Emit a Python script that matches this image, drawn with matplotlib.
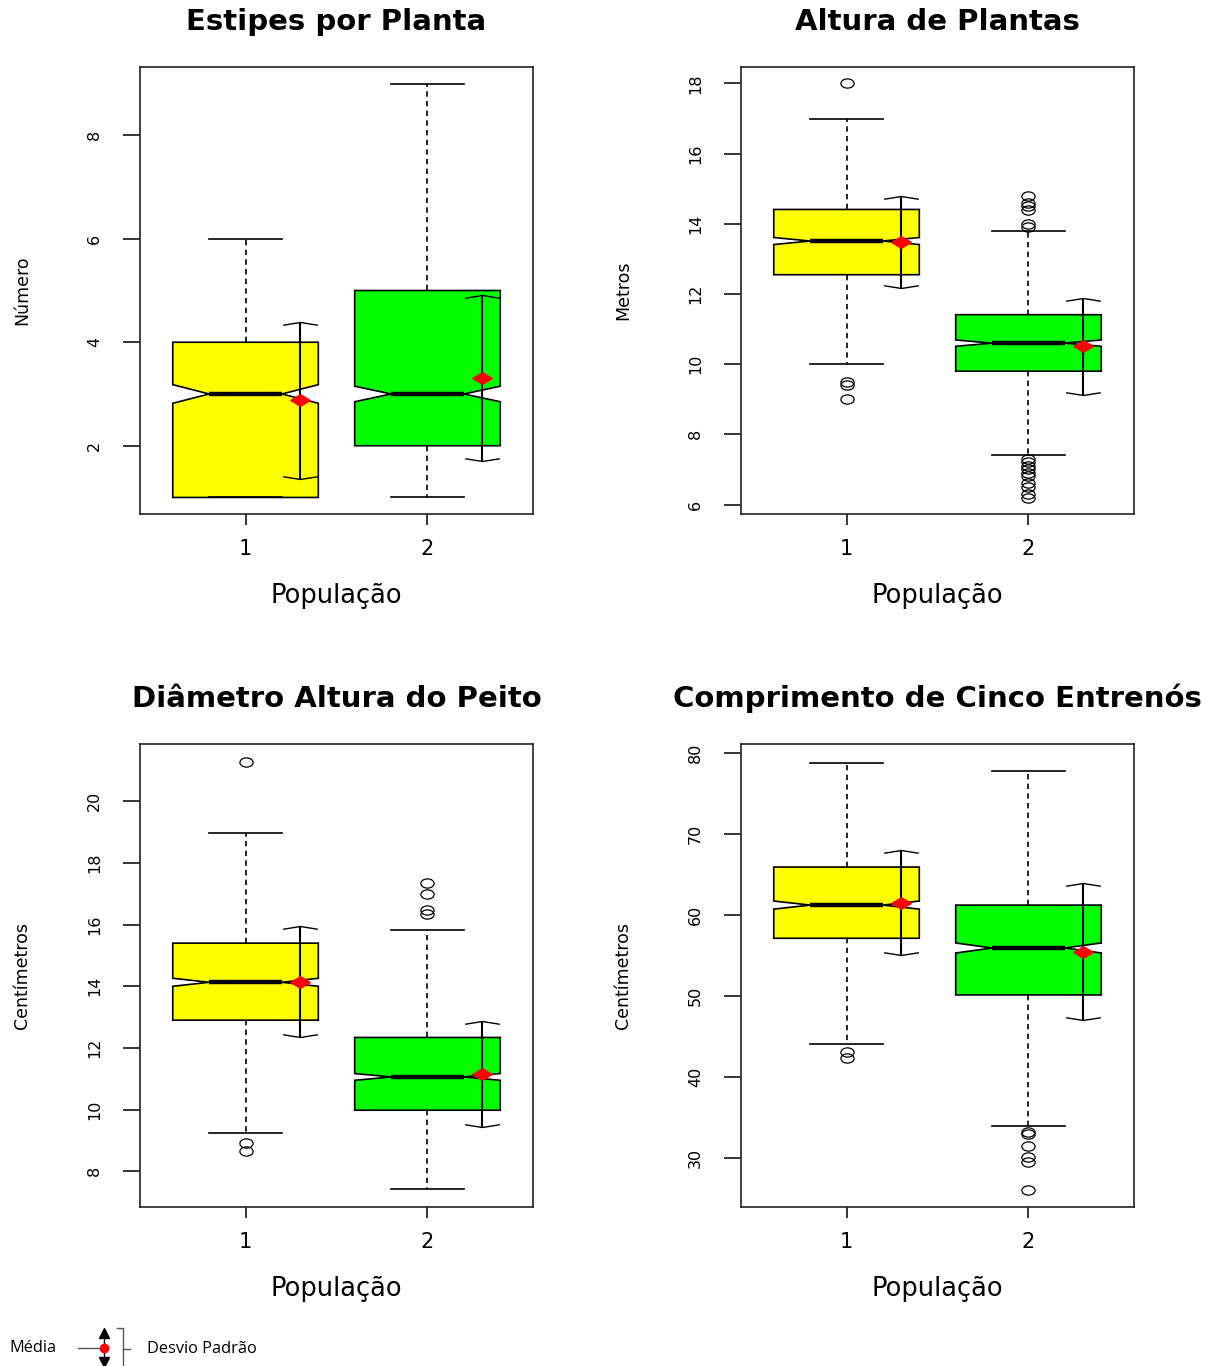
import numpy as np
import matplotlib
matplotlib.use("Agg")
import matplotlib.pyplot as plt
from matplotlib.path import Path
from matplotlib.markers import MarkerStyle
from matplotlib.lines import Line2D

# ---------------- data ----------------
titles = ["Estipes por Planta", "Altura de Plantas",
          "Diâmetro Altura do Peito", "Comprimento de Cinco Entrenós"]
ylabels = ["Número", "Metros", "Centímetros", "Centímetros"]
xlabel = "População"
groups = ["1", "2"]

# per panel, per population
whislo = [[1.0, 1.0], [10.0, 7.40], [9.23, 7.44], [44.0, 33.9]]
q1s    = [[1.0, 2.0], [12.55, 9.80], [12.90, 9.98], [57.1, 50.1]]
meds   = [[3.0, 3.0], [13.51, 10.60], [14.13, 11.06], [61.2, 55.9]]
q3s    = [[4.0, 5.0], [14.41, 11.41], [15.40, 12.34], [65.9, 61.2]]
whishi = [[6.0, 9.0], [17.0, 13.80], [18.96, 15.84], [78.8, 77.8]]
notch_half = [[0.18, 0.15], [0.10, 0.09], [0.13, 0.11], [0.5, 0.62]]
fliers = [
    [[], []],
    [[18.0, 9.5, 9.4, 9.0],
     [14.8, 14.6, 14.5, 14.4, 14.0, 13.9,
      7.3, 7.2, 7.1, 7.0, 6.9, 6.8, 6.6, 6.5, 6.3, 6.2]],
    [[21.27, 8.93, 8.67], [17.36, 17.01, 16.49, 16.36]],
    [[43.0, 42.3], [33.2, 32.9, 31.4, 30.1, 29.5, 26.0]],
]
means = [[2.88, 3.31], [13.47, 10.51], [14.15, 11.16], [61.5, 55.45]]
sds   = [[1.52, 1.60], [1.31, 1.39], [1.80, 1.71], [6.5, 8.45]]

yticks = [[2, 4, 6, 8], [6, 8, 10, 12, 14, 16, 18],
          [8, 10, 12, 14, 16, 18, 20], [30, 40, 50, 60, 70, 80]]
ylims = [(0.68, 9.32), (5.73, 18.47), (6.84, 21.86), (23.9, 81.1)]
box_colors = ["#FFFF00", "#00FF00"]

# ---------------- layout ----------------
W, H = 1214, 1366
fig = plt.figure(figsize=(W / 100, H / 100), dpi=100)
plt.rcParams['font.family'] = ['DejaVu Sans']

rects_px = [(140, 67, 533, 514), (741, 67, 1134, 514),
            (140, 744, 533, 1207), (741, 744, 1134, 1207)]

# markers
ell = Path.unit_circle()
flier_marker = MarkerStyle(Path(ell.vertices * np.array([1.0, 0.7]), ell.codes))
diamond = MarkerStyle(Path([(-1, 0), (0, 0.6), (1, 0), (0, -0.6), (-1, 0)],
                           [Path.MOVETO, Path.LINETO, Path.LINETO, Path.LINETO, Path.CLOSEPOLY]))
cap_top = MarkerStyle(Path([(-1, -0.16), (0, 0), (1, -0.16)],
                           [Path.MOVETO, Path.LINETO, Path.LINETO]), fillstyle='none')
cap_bot = MarkerStyle(Path([(-1, 0.16), (0, 0), (1, 0.16)],
                           [Path.MOVETO, Path.LINETO, Path.LINETO]), fillstyle='none')

positions = [1, 2]
for k in range(4):
    l, t, r, b = rects_px[k]
    ax = fig.add_axes([l / W, 1 - b / H, (r - l) / W, (b - t) / H])
    hpx, wpx = b - t, r - l
    stats = []
    for g in range(2):
        stats.append(dict(
            whislo=whislo[k][g], q1=q1s[k][g], med=meds[k][g], q3=q3s[k][g],
            whishi=whishi[k][g], fliers=fliers[k][g],
            cilo=meds[k][g] - notch_half[k][g], cihi=meds[k][g] + notch_half[k][g],
            label=groups[g]))
    bp = ax.bxp(stats, positions=positions, widths=0.8, capwidths=0.4,
                shownotches=True, patch_artist=True,
                boxprops=dict(edgecolor='black', linewidth=1.2),
                medianprops=dict(color='black', linewidth=3.2, solid_capstyle='butt'),
                whiskerprops=dict(color='black', linewidth=1.2, linestyle=(0, (3.2, 2.6))),
                capprops=dict(color='black', linewidth=1.2),
                flierprops=dict(marker=flier_marker, markersize=9.5, markerfacecolor='none',
                                markeredgecolor='black', markeredgewidth=0.9, linestyle='none'))
    for patch, c in zip(bp['boxes'], box_colors):
        patch.set_facecolor(c)

    # mean +- sd
    mpos = [p + 0.3 for p in positions]
    lo = [m - s for m, s in zip(means[k], sds[k])]
    hi = [m + s for m, s in zip(means[k], sds[k])]
    ax.vlines(mpos, lo, hi, colors='black', linewidth=1.5, zorder=4)
    ax.plot(mpos, hi, linestyle='none', marker=cap_top, markersize=25,
            markeredgecolor='black', markeredgewidth=1.0, zorder=4)
    ax.plot(mpos, lo, linestyle='none', marker=cap_bot, markersize=25,
            markeredgecolor='black', markeredgewidth=1.0, zorder=4)
    ax.plot(mpos, means[k], linestyle='none', marker=diamond, markersize=14,
            markerfacecolor='red', markeredgecolor='red', zorder=5)

    ax.set_xlim(0.42, 2.58)
    ax.set_ylim(*ylims[k])
    ax.set_xticks(positions)
    ax.set_xticklabels(groups)
    ax.set_yticks(yticks[k])
    ax.set_yticklabels([str(v) for v in yticks[k]])
    ax.tick_params(axis='x', direction='out', length=8, width=1.1, pad=10, labelsize=15)
    ax.tick_params(axis='y', direction='out', length=12.5, width=1.1, pad=15,
                   labelsize=11.5, labelrotation=90)
    for lab in ax.get_yticklabels():
        lab.set_va('center')
    for sp in ax.spines.values():
        sp.set_linewidth(1.2)
        sp.set_color('#222222')

    ax.text(0.5, 1 + 37 / hpx, titles[k], transform=ax.transAxes, ha='center',
            va='baseline', fontsize=21, fontweight='bold')
    ax.set_xlabel(xlabel, fontsize=18.5)
    ax.xaxis.set_label_coords(0.5, -69 / hpx)
    ax.xaxis.label.set_va('top')
    ax.set_ylabel(ylabels[k], fontsize=12.5)
    ax.yaxis.set_label_coords(-118 / wpx, 0.5)
    ax.yaxis.label.set_va('center')


# ---------------- legend (bottom-left) ----------------
def fx(px):
    return px / W


def fy(py):
    return 1 - py / H


lfont = ['Open Sans', 'DejaVu Sans']
fig.text(fx(9), fy(1348), "Média", ha='left', va='center', fontsize=11.8, family=lfont)
fig.text(fx(147), fy(1349), "Desvio Padrão", ha='left', va='center', fontsize=11.8, family=lfont)
fig.add_artist(Line2D([fx(78), fx(100)], [fy(1348), fy(1348)], color='#555555', lw=1.0))
fig.add_artist(Line2D([fx(104), fx(104)], [fy(1334), fy(1362)], color='black', lw=1.0))
fig.add_artist(Line2D([fx(104)], [fy(1333)], marker='^', markersize=7.5, color='black', linestyle='none'))
fig.add_artist(Line2D([fx(104)], [fy(1362)], marker='v', markersize=7.5, color='black', linestyle='none'))
fig.add_artist(Line2D([fx(104)], [fy(1348)], marker='o', markersize=6, color='red', linestyle='none'))
fig.add_artist(Line2D([fx(117), fx(123), fx(123)], [fy(1328), fy(1328), fy(1366)], color='#555555', lw=1.0))
fig.add_artist(Line2D([fx(123), fx(130)], [fy(1349), fy(1349)], color='#555555', lw=1.0))

fig.savefig("out.png", dpi=100)
